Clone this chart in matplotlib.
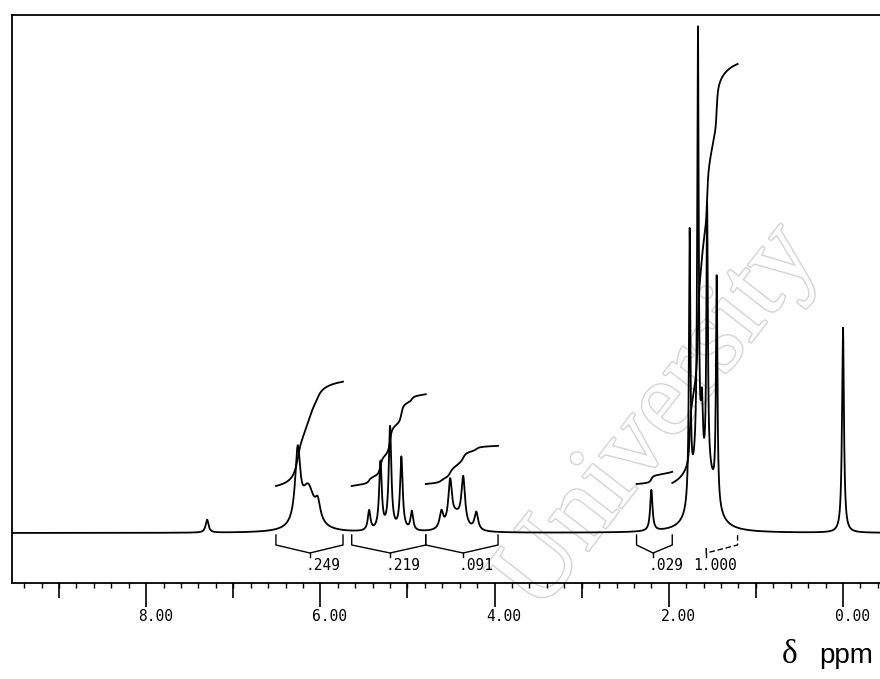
import numpy as np
import matplotlib
matplotlib.use('Agg')
import matplotlib.pyplot as plt
import matplotlib.patheffects as pe
from matplotlib.ticker import MultipleLocator

# resonances: shift (ppm), height above baseline, half width (ppm)
peak_ppm = [7.30,
            6.26, 6.14, 6.03,
            5.44, 5.31, 5.20, 5.07, 4.95,
            4.61, 4.51, 4.44, 4.36, 4.21,
            2.20,
            1.76, 1.69, 1.665, 1.62, 1.56, 1.53, 1.45,
            0.00]
peak_height = [13,
               72, 42, 18,
               20, 68, 103, 73, 19,
               17, 44, 14, 48, 18,
               41,
               270, 45, 440, 70, 270, 45, 225,
               205]
peak_width = [0.02,
              0.035, 0.09, 0.035,
              0.018, 0.018, 0.018, 0.018, 0.018,
              0.025, 0.025, 0.08, 0.025, 0.025,
              0.016,
              0.010, 0.07, 0.010, 0.015, 0.010, 0.09, 0.010,
              0.013]

# integral regions and printed integral values
int_from = [6.51, 5.64, 4.79, 2.37, 1.96]
int_to = [5.74, 4.79, 3.96, 1.96, 1.21]
int_value = [0.249, 0.219, 0.091, 0.029, 1.000]
int_start = [47, 47, 49, 49, 50]
bracket_mid = [6.12, 5.20, 4.36, 2.18, 1.57]
bracket_full = [True, True, True, True, False]

major_ticks = [8.0, 6.0, 4.0, 2.0, 0.0]
odd_ticks = [9.0, 7.0, 5.0, 3.0, 1.0]

INT_SCALE = 419

ppm = np.linspace(9.54, -0.425, 40001)
spec = np.zeros_like(ppm)
for p, h, w in zip(peak_ppm, peak_height, peak_width):
    spec += h / (1 + ((ppm - p) / w) ** 2)

fig = plt.figure(figsize=(8.8, 6.79), dpi=100)
ax = fig.add_axes([12 / 880, 1 - 583 / 679, 1 - 12 / 880, (583 - 15) / 679])

# faint watermark
ax.text(0.745, 0.29, 'University', transform=ax.transAxes, rotation=52,
        ha='center', va='center', fontsize=78, family='Liberation Serif',
        color='white', zorder=0,
        path_effects=[pe.Stroke(linewidth=2.0, foreground='#d4d4d4'), pe.Normal()])

ax.plot(ppm, spec, color='black', lw=1.3, zorder=3)

for a, b, v, s, m, full in zip(int_from, int_to, int_value, int_start,
                                bracket_mid, bracket_full):
    sel = (ppm <= a) & (ppm >= b)
    cum = np.cumsum(spec[sel])
    ax.plot(ppm[sel], s + v * INT_SCALE * cum / cum[-1], color='black', lw=1.3, zorder=3)

    # bracket below the baseline
    if full:
        ax.plot([a, a, m, b, b], [-2, -12, -20, -12, -2], color='black', lw=1.0)
    else:
        ax.plot([m, m, b, b], [-15, -20, -12, -2], color='black', lw=1.0, ls=(0, (4, 2)))
    ax.plot([m, m], [-20, -24], color='black', lw=1.0)

    lab = f'{v:.3f}'.lstrip('0')
    dot = lab.index('.')
    ax.annotate(lab, xy=(m, -33), xytext=(-(dot + 0.5) * 0.602 * 10.5, 0),
                textcoords='offset points', ha='left', va='center',
                family='DejaVu Sans Mono', fontsize=10.5)

ax.set_xlim(9.54, -0.425)
ax.set_ylim(-50, 518)
ax.set_yticks([])

ax.xaxis.set_major_locator(MultipleLocator(2))
ax.xaxis.set_minor_locator(MultipleLocator(0.2))
ax.tick_params(axis='x', which='major', direction='out', length=17, width=1.2,
               labelbottom=False)
ax.tick_params(axis='x', which='minor', direction='out', length=3.6, width=1.0)

sec = ax.secondary_xaxis('bottom')
sec.set_xticks(odd_ticks)
sec.tick_params(direction='out', length=10.8, width=1.2, labelbottom=False)
sec.spines['bottom'].set_visible(False)

for t in major_ticks:
    ax.annotate(f'{t:.2f}', xy=(t, 0), xycoords=('data', 'axes fraction'),
                xytext=(6.8, -24), textcoords='offset points',
                ha='center', va='center', family='DejaVu Sans Mono', fontsize=10.5)

ax.spines['right'].set_visible(False)
for sp in ['top', 'left', 'bottom']:
    ax.spines[sp].set_linewidth(1.3)

fig.text(797 / 880, 1 - 663 / 679, '\u03b4', ha='right', va='baseline',
         family='Liberation Serif', fontsize=24)
fig.text(873 / 880, 1 - 663 / 679, 'ppm', ha='right', va='baseline',
         family='Liberation Sans', fontsize=20)

fig.savefig('out.png', dpi=100)
